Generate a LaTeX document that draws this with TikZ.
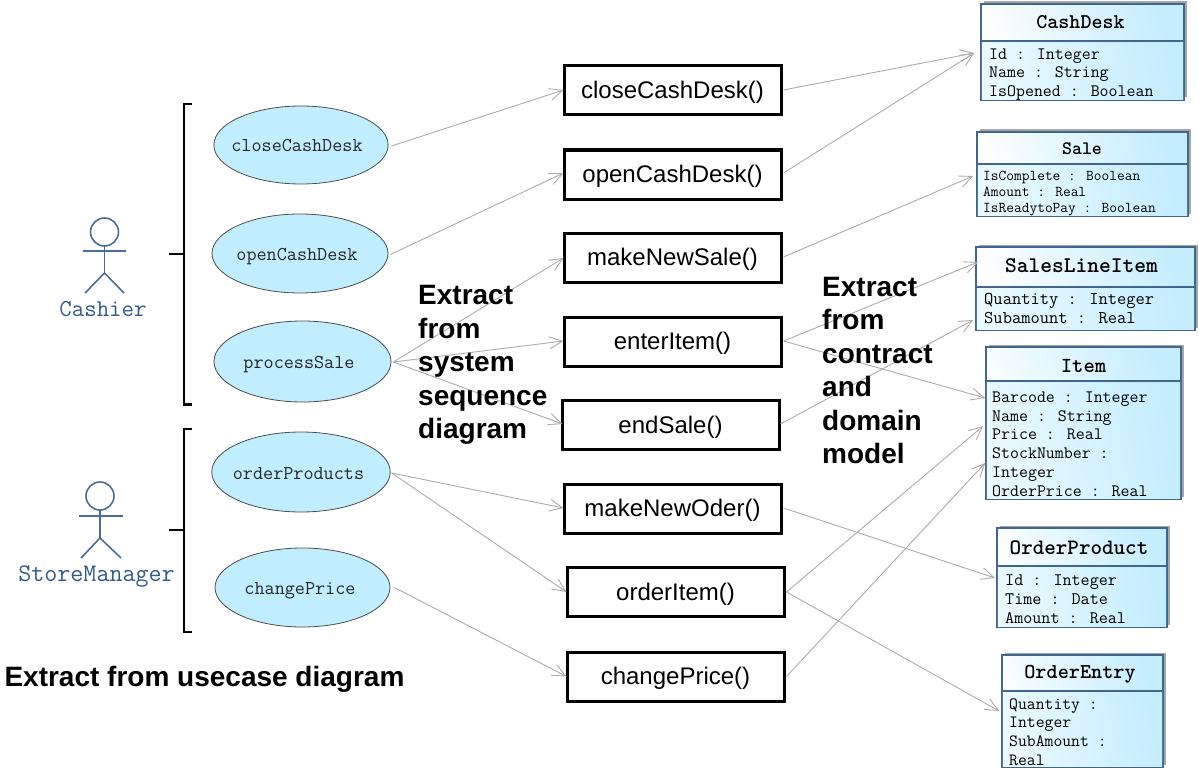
\documentclass[tikz,border=0pt]{standalone}
\usepackage{fontspec}
\setsansfont{Liberation Sans}
\usetikzlibrary{arrows.meta,shapes.geometric,shadows}
\definecolor{ucfill}{HTML}{C0EEFF}
\definecolor{actorblue}{HTML}{4A6C9B}
\definecolor{labelblue}{HTML}{2F5B8C}
\definecolor{umlborder}{HTML}{3F668F}
\definecolor{umlblue}{HTML}{C4EDFF}
\definecolor{umlpale}{HTML}{EAF9FF}
\definecolor{conncol}{HTML}{ABABAB}
\newcommand{\fs}[1]{\fontsize{#1}{#1}\selectfont}
\tikzset{
  x=1pt,y=-1pt,
  usecase/.style={ellipse,draw=black!70,line width=.8,fill=ucfill,inner sep=0,minimum width=#1},
  usecase/.default=175,
  uctext/.style={font=\ttfamily\fontsize{19.6}{20}\selectfont,text=black!85,text height=14,text depth=0},
  opbox/.style={rectangle,draw=black,line width=3,fill=white,minimum width=217,minimum height=49,inner sep=0,font=\sffamily\fontsize{24}{26}\selectfont,text height=18,text depth=2},
  conn/.style={draw=conncol,line width=.9,-{Straight Barb[length=13,width=12,line width=.9]}},
  umlbox/.style={rectangle,draw=umlborder,line width=1.7,inner sep=0,shading=axis,left color=white,right color=umlblue,shading angle=110,
     drop shadow={shadow xshift=2.5,shadow yshift=-2.5,fill=black,opacity=.35}},
  umlpart/.style={shading=axis,left color=umlpale,right color=umlblue,shading angle=100},
  umldiv/.style={draw=umlborder,line width=1.2},
  umltitle/.style={inner sep=0},
  umlbody/.style={anchor=north west,align=left,inner sep=0},
  bracket/.style={draw=black,line width=2.2},
  actor/.style={draw=actorblue,line width=1.6},
  actorname/.style={text=labelblue,inner sep=0},
  bigtext/.style={anchor=north west,align=left,inner sep=0,font=\sffamily\bfseries\fontsize{28}{33.5}\selectfont},
}
\begin{document}
\begin{tikzpicture}
\useasboundingbox (0,0) rectangle (1199,773);
% brackets
\draw[bracket] (192,104) -- (184,104) -- (184,404.5) -- (192,404.5);
\draw[bracket] (169,254) -- (184,254);
\draw[bracket] (192,429) -- (184,429) -- (184,632) -- (192,632);
\draw[bracket] (169,530) -- (184,530);
% actors
\draw[actor] (104.5,232) circle (14);
\draw[actor] (83,251) -- (126,251);
\draw[actor] (104.5,246) -- (104.5,273);
\draw[actor] (85,293) -- (104.5,273) -- (124,293);
\draw[actor] (100,496) circle (14);
\draw[actor] (79,516) -- (123,516);
\draw[actor] (100,510) -- (100,538);
\draw[actor] (81,558) -- (100,538) -- (121,558);
\node[actorname,font=\ttfamily\fontsize{24.2}{25}\selectfont] (cashier) at (103,309) {Cashier};
\node[actorname,font=\ttfamily\fontsize{25.3}{26}\selectfont] (manager) at (96.5,576.5) {StoreManager};
% use cases
\node[usecase=173,minimum height=78,uctext] (uc1) at (301,145) {\hspace*{-8pt}closeCashDesk};
\node[usecase=176,minimum height=79,uctext] (uc2) at (300,253.5) {\hspace*{-6pt}openCashDesk};
\node[usecase=177,minimum height=81,uctext] (uc3) at (302.5,361.5) {\hspace*{-7pt}processSale};
\node[usecase=178,minimum height=80,uctext] (uc4) at (301,472) {\hspace*{-5pt}orderProducts};
\node[usecase=175,minimum height=79,uctext] (uc5) at (302.5,587.5) {\hspace*{-5pt}changePrice};
% operations
\node[opbox] (op1) at (672.5,90.5) {closeCashDesk()};
\node[opbox] (op2) at (672.5,174.5) {openCashDesk()};
\node[opbox] (op3) at (672.5,257.5) {makeNewSale()};
\node[opbox] (op4) at (672.5,341.5) {enterItem()};
\node[opbox] (op5) at (670.5,425) {endSale()};
\node[opbox] (op6) at (672.5,508.5) {makeNewOder()};
\node[opbox] (op7) at (675.5,592) {orderItem()};
\node[opbox] (op8) at (675.5,676.5) {changePrice()};
% classes
\node[umlbox,minimum width=203,minimum height=96] (c1) at (1082.5,52) {};
\fill[umlpart] (981.8,41) rectangle (1183.2,99.2);
\draw[umldiv] (981,41) -- (1184,41);
\node[umltitle,font=\ttfamily\bfseries\fs{21}] (c1t) at (1080.5,22) {CashDesk};
\node[umlbody,font=\ttfamily\fontsize{17.4}{18.5}\selectfont] (c1b) at (989,46) {\strut Id : Integer\\Name : String\\IsOpened : Boolean};
\node[umlbox,minimum width=211,minimum height=84] (c2) at (1082.5,174) {};
\fill[umlpart] (977.8,164) rectangle (1187.2,215.2);
\draw[umldiv] (977,164) -- (1188,164);
\node[umltitle,font=\ttfamily\bfseries\fs{19}] (c2t) at (1082,149) {Sale};
\node[umlbody,font=\ttfamily\fontsize{15}{16}\selectfont] (c2b) at (983,169) {\strut IsComplete : Boolean\\Amount : Real\\IsReadytoPay : Boolean};
\node[umlbox,minimum width=219,minimum height=83] (c3) at (1085.5,288.5) {};
\fill[umlpart] (976.8,287) rectangle (1194.2,329.2);
\draw[umldiv] (976,287) -- (1195,287);
\node[umltitle,font=\ttfamily\bfseries\fs{22.4}] (c3t) at (1081.5,266) {SalesLineItem};
\node[umlbody,font=\ttfamily\fontsize{18}{19}\selectfont] (c3b) at (984,291) {\strut Quantity : Integer\\Subamount : Real};
\node[umlbox,minimum width=195,minimum height=152] (c4) at (1083.5,423) {};
\fill[umlpart] (986.8,381) rectangle (1180.2,498.2);
\draw[umldiv] (986,381) -- (1181,381);
\node[umltitle,font=\ttfamily\bfseries\fs{21.5}] (c4t) at (1083.5,366) {Item};
\node[umlbody,font=\ttfamily\fontsize{17.4}{18.8}\selectfont] (c4b) at (992,389) {\strut Barcode : Integer\\Name : String\\Price : Real\\StockNumber :\\Integer\\OrderPrice : Real};
\node[umlbox,minimum width=170,minimum height=99] (c5) at (1082,577.5) {};
\fill[umlpart] (997.8,566) rectangle (1166.2,626.2);
\draw[umldiv] (997,566) -- (1167,566);
\node[umltitle,font=\ttfamily\bfseries\fs{22}] (c5t) at (1079,548) {OrderProduct};
\node[umlbody,font=\ttfamily\fontsize{17.6}{19}\selectfont] (c5b) at (1005,572) {\strut Id : Integer\\Time : Date\\Amount : Real};
\node[umlbox,minimum width=161,minimum height=112] (c6) at (1082.5,711) {};
\fill[umlpart] (1002.8,691) rectangle (1162.2,766.2);
\draw[umldiv] (1002,691) -- (1163,691);
\node[umltitle,font=\ttfamily\bfseries\fs{21.2}] (c6t) at (1080,674) {OrderEntry};
\node[umlbody,font=\ttfamily\fontsize{17.2}{18.7}\selectfont] (c6b) at (1009,696) {\strut Quantity :\\Integer\\SubAmount :\\Real};
% connectors use case -> operation
\draw[conn] ([shift={(3,1)}]uc1.east) -- ([shift={(1,-0.5)}]op1.west);
\draw[conn] ([shift={(2,1)}]uc2.east) -- ([shift={(1,-1.5)}]op2.west);
\draw[conn] ([shift={(2,0.5)}]uc3.east) -- ([shift={(1,0.5)}]op3.west);
\draw[conn] ([shift={(2,0.5)}]uc3.east) -- ([shift={(1,-0.5)}]op4.west);
\draw[conn] ([shift={(2,0.5)}]uc3.east) -- ([shift={(2,-1)}]op5.west);
\draw[conn] ([shift={(1,1)}]uc4.east) -- ([shift={(1,-0.5)}]op6.west);
\draw[conn] ([shift={(1,1)}]uc4.east) -- ([shift={(1,0)}]op7.west);
\draw[conn] ([shift={(4,0)}]uc5.east) -- ([shift={(1,0)}]op8.west);
% connectors operation -> class
\draw[conn] ([shift={(1,-0.5)}]op1.east) -- ([shift={(-6,1)}]c1.west);
\draw[conn] ([shift={(1,-1.5)}]op2.east) -- ([shift={(-6,1)}]c1.west);
\draw[conn] ([shift={(1,-0.5)}]op3.east) -- ([shift={(-3,2)}]c2.west);
\draw[conn] ([shift={(1,-0.5)}]op4.east) -- ([shift={(3,-26.5)}]c3.west);
\draw[conn] ([shift={(1,-0.5)}]op4.east) -- ([shift={(0,-25)}]c4.west);
\draw[conn] ([shift={(0,-1)}]op5.east) -- ([shift={(-2,31.5)}]c3.west);
\draw[conn] ([shift={(1,-0.5)}]op6.east) -- ([shift={(-1,0.5)}]c5.west);
\draw[conn] ([shift={(1,0)}]op7.east) -- ([shift={(-2,3)}]c4.west);
\draw[conn] ([shift={(1,0)}]op7.east) -- ([shift={(-2,0)}]c6.west);
\draw[conn] ([shift={(1,0)}]op8.east) -- ([shift={(0,40)}]c4.west);
% captions
\node[bigtext] (cap1) at (418,285.5) {Extract\\from\\system\\sequence\\diagram};
\node[bigtext] (cap2) at (822,277) {Extract\\from\\contract\\and\\domain\\model};
\node[bigtext,anchor=center] (cap3) at (204.5,679) {Extract from usecase diagram};
\end{tikzpicture}
\end{document}
